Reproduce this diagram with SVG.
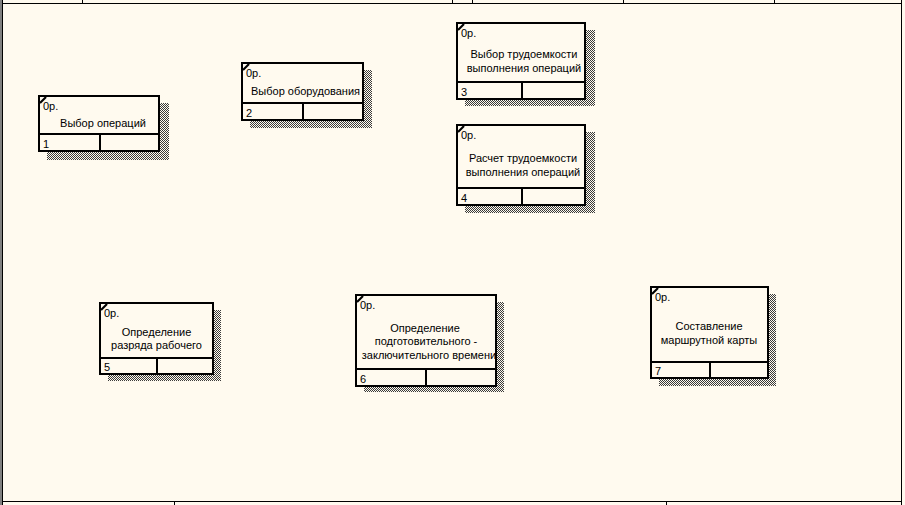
<svg xmlns="http://www.w3.org/2000/svg" width="905" height="505" viewBox="0 0 905 505">
<style>
.frame{stroke:#000;stroke-width:1.5;fill:none;shape-rendering:crispEdges}
.box{fill:#FFFAEF;stroke:#000;stroke-width:2;shape-rendering:crispEdges}
.div{stroke:#000;stroke-width:1.5;fill:none;shape-rendering:crispEdges}
.corner{stroke:#000;stroke-width:2.2}
.sh{fill:url(#dots);shape-rendering:crispEdges}
text{font-family:"Liberation Sans",Arial,sans-serif;font-size:11px;fill:#000}
.c{text-anchor:middle}
</style>
<defs>
<pattern id="dots" patternUnits="userSpaceOnUse" width="2" height="2">
<rect x="0" y="0" width="1" height="1" fill="#3a3a3a"/>
<rect x="1" y="1" width="1" height="1" fill="#3a3a3a"/>
</pattern>
<clipPath id="clip6"><rect x="357" y="296" width="138" height="72"/></clipPath>
</defs>
<rect x="0" y="0" width="905" height="505" fill="#FFFAEF"/>
<g id="frame">
<rect x="0" y="0" width="2" height="505" fill="#808080"/>
<line class="frame" x1="2.5" y1="0" x2="2.5" y2="505"/>
<line class="frame" x1="2" y1="3.5" x2="902" y2="3.5"/>
<line class="frame" x1="901.5" y1="0" x2="901.5" y2="505"/>
<line class="frame" x1="2" y1="501.5" x2="902" y2="501.5"/>
<line class="frame" x1="82.5" y1="0" x2="82.5" y2="3"/>
<line class="frame" x1="452.5" y1="0" x2="452.5" y2="3"/>
<line class="frame" x1="472.5" y1="0" x2="472.5" y2="3"/>
<line class="frame" x1="623.5" y1="0" x2="623.5" y2="3"/>
<line class="frame" x1="774.5" y1="0" x2="774.5" y2="3"/>
<line class="frame" x1="174.5" y1="502" x2="174.5" y2="505"/>
<line class="frame" x1="666.5" y1="502" x2="666.5" y2="505"/>
</g>
<g id="connectors"></g>
<g id="node1">
<rect class="sh" x="47" y="103" width="122" height="57"/>
<rect class="box" x="39" y="96" width="120" height="55"/>
<line class="div" x1="39" y1="134" x2="159" y2="134"/>
<line class="div" x1="100" y1="134" x2="100" y2="151"/>
<line class="corner" x1="40" y1="103" x2="46" y2="97"/>
<text x="43" y="110">0р.</text>
<text x="43" y="148">1</text>
<text class="c" x="103" y="127">Выбор операций</text>
</g>
<g id="node2">
<rect class="sh" x="250" y="70" width="122" height="58"/>
<rect class="box" x="242" y="63" width="121" height="57"/>
<line class="div" x1="242" y1="103" x2="363" y2="103"/>
<line class="div" x1="303" y1="103" x2="303" y2="120"/>
<line class="corner" x1="243" y1="70" x2="249" y2="64"/>
<text x="246" y="77">0р.</text>
<text x="246" y="117">2</text>
<text class="c" x="305.5" y="95">Выбор оборудования</text>
</g>
<g id="node3">
<rect class="sh" x="465" y="30" width="130" height="76"/>
<rect class="box" x="457" y="23" width="128" height="76"/>
<line class="div" x1="457" y1="82" x2="585" y2="82"/>
<line class="div" x1="522" y1="82" x2="522" y2="99"/>
<line class="corner" x1="458" y1="30" x2="464" y2="24"/>
<text x="461" y="37">0р.</text>
<text x="461" y="96">3</text>
<text class="c" x="524" y="57.5">Выбор трудоемкости</text>
<text class="c" x="524" y="71.5">выполнения операций</text>
</g>
<g id="node4">
<rect class="sh" x="465" y="132" width="130" height="81"/>
<rect class="box" x="457" y="125" width="128" height="80"/>
<line class="div" x1="457" y1="188" x2="585" y2="188"/>
<line class="div" x1="522" y1="188" x2="522" y2="205"/>
<line class="corner" x1="458" y1="132" x2="464" y2="126"/>
<text x="461" y="139">0р.</text>
<text x="461" y="202">4</text>
<text class="c" x="523" y="162">Расчет трудоемкости</text>
<text class="c" x="523" y="176">выполнения операций</text>
</g>
<g id="node5">
<rect class="sh" x="108" y="310" width="113" height="71"/>
<rect class="box" x="100" y="303" width="113" height="71"/>
<line class="div" x1="100" y1="358" x2="213" y2="358"/>
<line class="div" x1="157" y1="358" x2="157" y2="374"/>
<line class="corner" x1="101" y1="310" x2="107" y2="304"/>
<text x="104" y="317">0р.</text>
<text x="104" y="371">5</text>
<text class="c" x="156.5" y="335.5">Определение</text>
<text class="c" x="156.5" y="349">разряда рабочего</text>
</g>
<g id="node6">
<rect class="sh" x="364" y="302" width="140" height="90"/>
<rect class="box" x="356" y="295" width="140" height="91"/>
<line class="div" x1="356" y1="369" x2="496" y2="369"/>
<line class="div" x1="426" y1="369" x2="426" y2="386"/>
<line class="corner" x1="357" y1="302" x2="363" y2="296"/>
<text x="360" y="309">0р.</text>
<text x="360" y="383">6</text>
<text class="c" x="425" y="331.5">Определение</text>
<text class="c" x="426" y="345">подготовительного -</text>
<text class="c" x="429" y="358.5" clip-path="url(#clip6)">заключительного времени</text>
</g>
<g id="node7">
<rect class="sh" x="659" y="294" width="117" height="92"/>
<rect class="box" x="651" y="287" width="117" height="91"/>
<line class="div" x1="651" y1="362" x2="768" y2="362"/>
<line class="div" x1="710" y1="362" x2="710" y2="378"/>
<line class="corner" x1="652" y1="294" x2="658" y2="288"/>
<text x="655" y="301">0р.</text>
<text x="655" y="375">7</text>
<text class="c" x="709" y="330">Составление</text>
<text class="c" x="709" y="344">маршрутной карты</text>
</g>
</svg>
